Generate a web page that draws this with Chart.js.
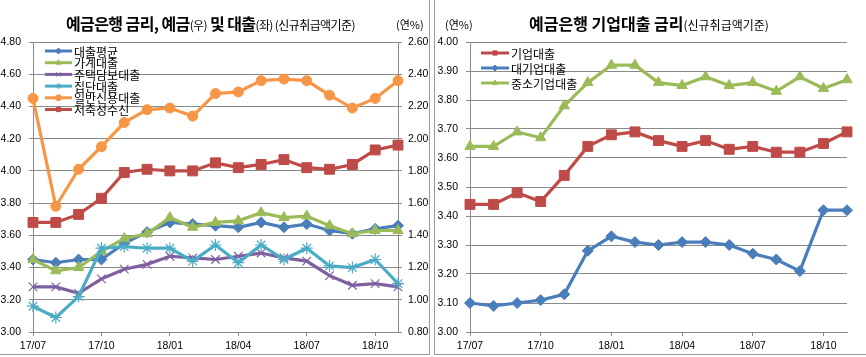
<!DOCTYPE html>
<html>
<head>
<meta charset="utf-8">
<script src="https://cdn.jsdelivr.net/npm/chart.js@4.4.1/dist/chart.umd.min.js"></script>
<style>
  html, body { margin:0; padding:0; background:#fff; }
  body { width:866px; height:357px; position:relative; overflow:hidden; font-family:"Noto Sans CJK KR", sans-serif; }
  canvas { position:absolute; top:0; }
  #c1 { left:0; }
  #c2 { left:434px; }
  .panel { position:absolute; top:-2px; height:356px; border-bottom:1px solid #9a9a9a; }
  #p1 { left:-2px; width:431px; border-right:1px solid #9a9a9a; }
  #p2 { left:434px; width:440px; border-left:1px solid #9a9a9a; }
  .t { position:absolute; white-space:nowrap; line-height:20px; color:#000; }
  .t b { font-size:16px; font-weight:700; }
  .t small { font-size:12px; font-weight:400; }
  #t1 { letter-spacing:-0.6px; }
  .u { position:absolute; font-size:11px; white-space:nowrap; line-height:14px; }
</style>
</head>
<body>
<div class="panel" id="p1"></div>
<div class="panel" id="p2"></div>
<canvas id="c1" width="430" height="357"></canvas>
<canvas id="c2" width="432" height="357"></canvas>
<div class="t" id="t1" style="left:66px;top:13px"><b>예금은행 금리, 예금</b><small>(우)</small><b> 및 대출</b><small>(좌)</small><small> (신규취급액기준)</small></div>
<div class="u" style="left:396px;top:17px">(연%)</div>
<div class="t" style="left:529px;top:13px"><b>예금은행 기업대출 금리</b><small>(신규취급액기준)</small></div>
<div class="u" style="left:445px;top:17px">(연%)</div>
<script>
const months = ['17/07','17/08','17/09','17/10','17/11','17/12','18/01','18/02','18/03','18/04','18/05','18/06','18/07','18/08','18/09','18/10','18/11'];

// Left chart (left axis: loans, right axis: deposits)
const loanAvg   = [3.45,3.43,3.45,3.45,3.55,3.62,3.68,3.67,3.66,3.65,3.68,3.65,3.67,3.63,3.61,3.64,3.66];
const household = [3.45,3.38,3.40,3.50,3.58,3.61,3.71,3.65,3.68,3.69,3.74,3.71,3.72,3.66,3.61,3.63,3.63];
const mortgage  = [3.28,3.28,3.24,3.33,3.39,3.42,3.47,3.46,3.45,3.47,3.49,3.46,3.44,3.35,3.29,3.30,3.28];
const groupLoan = [3.16,3.09,3.22,3.52,3.53,3.52,3.52,3.44,3.54,3.43,3.54,3.45,3.52,3.41,3.40,3.45,3.30];
const creditLoan= [4.45,3.78,4.01,4.15,4.30,4.38,4.39,4.34,4.48,4.49,4.56,4.57,4.56,4.47,4.39,4.45,4.56];
const savings   = [1.48,1.48,1.53,1.63,1.79,1.81,1.80,1.80,1.85,1.82,1.84,1.87,1.82,1.81,1.84,1.93,1.96];

// Right chart
const corpLoan  = [3.44,3.44,3.48,3.45,3.54,3.64,3.68,3.69,3.66,3.64,3.66,3.63,3.64,3.62,3.62,3.65,3.69];
const largeCorp = [3.10,3.09,3.10,3.11,3.13,3.28,3.33,3.31,3.30,3.31,3.31,3.30,3.27,3.25,3.21,3.42,3.42];
const smeLoan   = [3.64,3.64,3.69,3.67,3.78,3.86,3.92,3.92,3.86,3.85,3.88,3.85,3.86,3.83,3.88,3.84,3.87];

const GRID = '#8a8a8a';
const TICKFONT = { family: '"Liberation Sans", Arial, sans-serif', size: 10.5 };

const innerLegend = {
  id: 'innerLegend',
  afterDatasetsDraw(chart, args, opts) {
    const ctx = chart.ctx;
    ctx.save();
    chart.data.datasets.forEach((ds, i) => {
      const y = opts.y + i * opts.gap;
      ctx.strokeStyle = ds.borderColor;
      ctx.lineWidth = 3;
      ctx.beginPath();
      ctx.moveTo(opts.x, y);
      ctx.lineTo(opts.x + opts.len, y);
      ctx.stroke();
      if (Chart.helpers && Chart.helpers.drawPoint) {
        ctx.fillStyle = ds.borderColor;
        ctx.strokeStyle = ds.borderColor;
        ctx.lineWidth = 1;
        Chart.helpers.drawPoint(ctx, { pointStyle: ds.pointStyle, radius: opts.r, rotation: 0, borderWidth: 1 }, opts.x + opts.len / 2, y);
      }
      ctx.fillStyle = '#000';
      ctx.font = opts.font;
      ctx.textBaseline = 'middle';
      ctx.textAlign = 'left';
      ctx.fillText(ds.label, opts.x + opts.len + 2, y + 1);
    });
    ctx.restore();
  }
};

function series(label, data, color, style, radius, axis, order) {
  return {
    label, data, yAxisID: axis, order,
    borderColor: color, backgroundColor: color,
    pointBackgroundColor: color, pointBorderColor: color,
    pointStyle: style, pointRadius: radius, pointHoverRadius: radius,
    pointBorderWidth: (style === 'crossRot' || style === 'star') ? 1.2 : 1,
    borderWidth: 3.2, tension: 0, fill: false
  };
}

function xScale(h) {
  return {
    type: 'category',
    offset: false,
    grid: {
      drawOnChartArea: false, drawTicks: true, tickLength: 4,
      color: (c) => (c.index % 3 === 0 ? GRID : 'rgba(0,0,0,0)')
    },
    border: { display: true, color: GRID },
    ticks: {
      autoSkip: false, maxRotation: 0, minRotation: 0, padding: 4,
      color: '#000', font: TICKFONT,
      callback: function (v, i) { return i % 3 === 0 ? this.getLabelForValue(v) : ''; }
    },
    afterFit: (s) => { s.height = h; }
  };
}

function yScale(pos, min, max, step, width, grid, pad) {
  return {
    type: 'linear', position: pos, min, max,
    grid: { drawOnChartArea: grid, drawTicks: true, tickLength: 4, color: GRID, lineWidth: 1 },
    border: { display: true, color: GRID },
    ticks: {
      stepSize: step, padding: pad, color: '#000', font: TICKFONT,
      callback: (v) => Number(v).toFixed(2)
    },
    afterFit: (s) => { s.width = width; }
  };
}

const common = {
  responsive: false,
  animation: false,
  events: [],
  plugins: { legend: { display: false }, tooltip: { enabled: false } }
};

new Chart(document.getElementById('c1'), {
  type: 'line',
  data: {
    labels: months,
    datasets: [
      series('대출평균', loanAvg, '#4A7EBB', 'rectRot', 5.5, 'y', 6),
      series('가계대출', household, '#9BBB59', 'triangle', 6, 'y', 5),
      series('주택담보대출', mortgage, '#7E5FA0', 'crossRot', 6, 'y', 4),
      series('집단대출', groupLoan, '#4BACC6', 'star', 6, 'y', 3),
      series('일반신용대출', creditLoan, '#F79646', 'circle', 5, 'y', 2),
      series('저축성수신', savings, '#BE4B48', 'rect', 7, 'y1', 1)
    ]
  },
  options: Object.assign({}, common, {
    layout: { padding: { top: 42, left: 0, right: 0, bottom: 0 } },
    scales: {
      x: xScale(25),
      y: yScale('left', 3.0, 4.8, 0.2, 33, true, 8),
      y1: yScale('right', 0.8, 2.6, 0.2, 32, false, 6)
    },
    plugins: Object.assign({}, common.plugins, {
      innerLegend: { x: 45, y: 51, gap: 11.7, len: 27, r: 3, font: '12px "Noto Sans CJK KR", sans-serif' }
    })
  }),
  plugins: [innerLegend]
});

new Chart(document.getElementById('c2'), {
  type: 'line',
  data: {
    labels: months,
    datasets: [
      series('기업대출', corpLoan, '#BE4B48', 'rect', 7, 'y', 3),
      series('대기업대출', largeCorp, '#4A7EBB', 'rectRot', 5.5, 'y', 2),
      series('중소기업대출', smeLoan, '#9BBB59', 'triangle', 6, 'y', 1)
    ]
  },
  options: Object.assign({}, common, {
    layout: { padding: { top: 42, left: 0, right: 19, bottom: 0 } },
    scales: {
      x: xScale(25),
      y: yScale('left', 3.0, 4.0, 0.1, 36, true, 8)
    },
    plugins: Object.assign({}, common.plugins, {
      innerLegend: { x: 47, y: 53, gap: 15, len: 28, r: 3, font: '12px "Noto Sans CJK KR", sans-serif' }
    })
  }),
  plugins: [innerLegend]
});
</script>
</body>
</html>
